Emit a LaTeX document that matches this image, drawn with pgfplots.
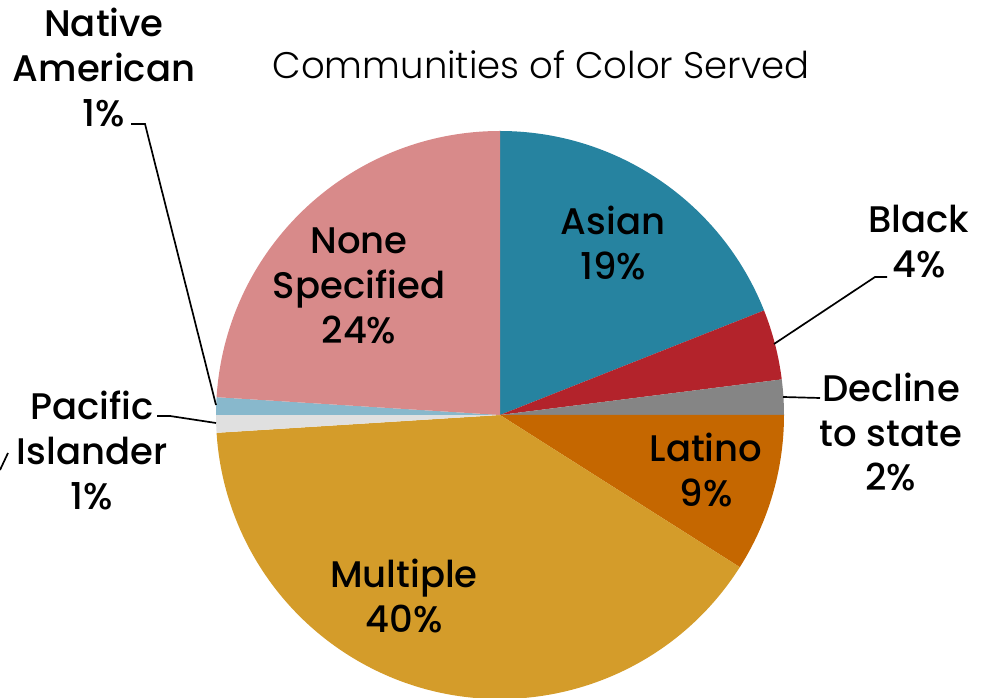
\documentclass[border=0pt]{standalone}
\usepackage{pgfplots}
\pgfplotsset{compat=1.18}
\usepackage{pgfplotstable}
\usepackage{fontspec}
\setmainfont{Poppins Medium}
\newfontfamily\titlefont{Poppins Light}
\definecolor{cAsian}{HTML}{2683A0}
\definecolor{cBlack}{HTML}{B3232B}
\definecolor{cDecline}{HTML}{858585}
\definecolor{cLatino}{HTML}{C56700}
\definecolor{cMultiple}{HTML}{D49C2A}
\definecolor{cPacific}{HTML}{E0E0E0}
\definecolor{cNative}{HTML}{88B8CC}
\definecolor{cNone}{HTML}{D88A8A}
\pgfplotstableread{
pct col
19 cAsian
4 cBlack
2 cDecline
9 cLatino
40 cMultiple
1 cPacific
1 cNative
24 cNone
}\piedata
\newcommand\lab{\fontsize{37}{45}\selectfont}
\begin{document}
\begin{tikzpicture}
\begin{axis}[scale only axis, width=985pt, height=698pt,
  xmin=0, xmax=985, ymin=0, ymax=698, hide axis, clip=false,
  at={(0,0)}, anchor=south west]
\pgfplotstablegetrowsof{\piedata}
\pgfmathtruncatemacro\N{\pgfplotsretval-1}
\xdef\angstart{90}
\pgfplotsforeachungrouped \i in {0,...,\N}{%
  \pgfplotstablegetelem{\i}{pct}\of\piedata \let\slicepct\pgfplotsretval
  \pgfplotstablegetelem{\i}{col}\of\piedata \let\slicecol\pgfplotsretval
  \pgfmathsetmacro\angend{\angstart-3.6*\slicepct}%
  \edef\temp{\noexpand\fill[\slicecol] (axis cs:500,283) -- ++(\angstart:284pt) arc[start angle=\angstart, end angle=\angend, radius=284pt] -- cycle;}%
  \temp
  \xdef\angstart{\angend}%
}
% leader lines
\draw[line width=1.7pt] (axis cs:774,354) -- (axis cs:875,421) -- (axis cs:887,421);
\draw[line width=1.7pt] (axis cs:783,301) -- (axis cs:820,300);
\draw[line width=1.7pt] (axis cs:216,275) -- (axis cs:170,282) -- (axis cs:157,282);
\draw[line width=1.7pt] (axis cs:216,293) -- (axis cs:145,574) -- (axis cs:131,574);
\draw[line width=1.7pt] (axis cs:0,228) -- (axis cs:8,245);
% labels
\node[anchor=base, font=\titlefont\fontsize{37}{45}\selectfont] at (axis cs:541,619) {Communities of Color Served};
\node[align=center, font=\lab] at (axis cs:613,455) {Asian\\19\%};
\node[align=center, font=\lab] at (axis cs:919,456) {Black\\4\%};
\node[align=center, font=\lab] at (axis cs:891,266) {Decline\\to state\\2\%};
\node[align=center, font=\lab] at (axis cs:706,228) {Latino\\9\%};
\node[align=center, font=\lab] at (axis cs:404,102) {Multiple\\40\%};
\node[align=center, font=\lab] at (axis cs:92,248) {Pacific\\Islander\\1\%};
\node[align=center, font=\lab] at (axis cs:104,630) {Native\\American\\1\%};
\node[align=center, font=\lab] at (axis cs:359,412) {None\\Specified\\24\%};
\end{axis}
\pgfresetboundingbox
\path (0,0) rectangle (985pt,698pt);
\end{tikzpicture}
\end{document}
